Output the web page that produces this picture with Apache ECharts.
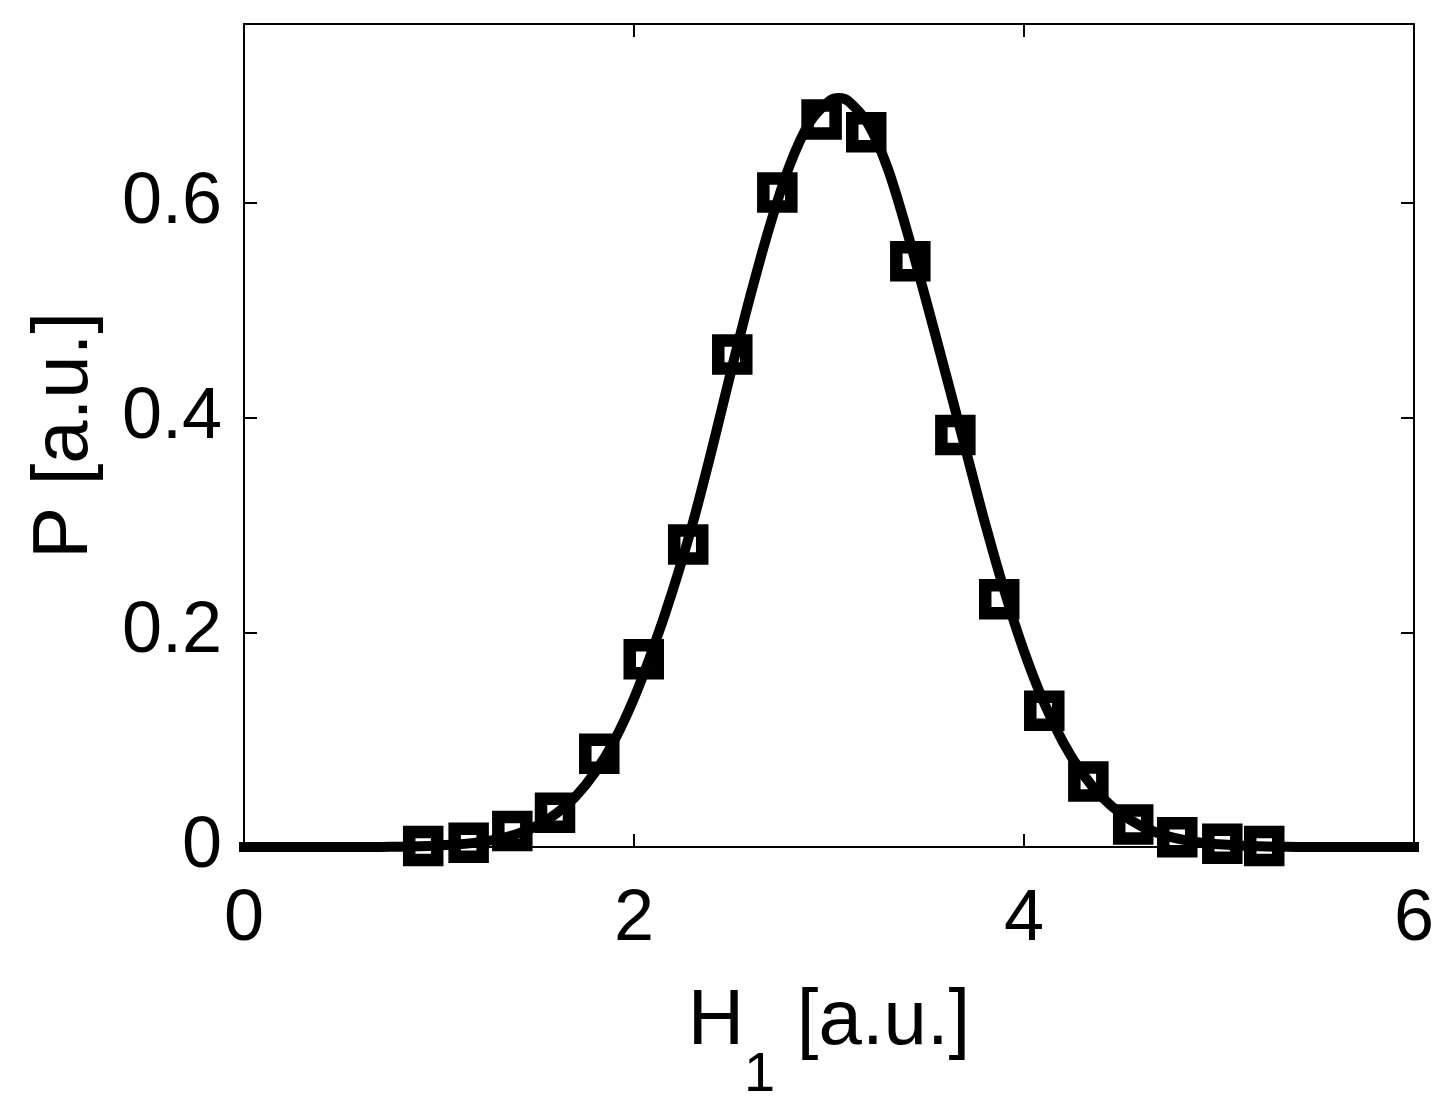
<!DOCTYPE html>
<html>
<head>
<meta charset="utf-8">
<script src="https://cdn.jsdelivr.net/npm/echarts@6/dist/echarts.min.js"></script>
<style>
html,body{margin:0;padding:0;background:#fff;}
#chart{width:1455px;height:1116px;}
</style>
</head>
<body>
<div id="chart"></div>
<script>
// Measured histogram points (squares)
const markerX = [0.919, 1.152, 1.376, 1.595, 1.822, 2.050, 2.278, 2.504, 2.735, 2.962,
                 3.191, 3.417, 3.648, 3.873, 4.104, 4.330, 4.560, 4.786, 5.017, 5.232];
const markerY = [0.001, 0.004, 0.015, 0.032, 0.087, 0.175, 0.282, 0.459, 0.610, 0.678,
                 0.666, 0.546, 0.384, 0.231, 0.127, 0.061, 0.021, 0.009, 0.003, 0.001];

// Fitted curve
const curveX = [0.0, 0.1, 0.2, 0.3, 0.4, 0.5, 0.6, 0.7, 0.8, 0.9,
                1.0, 1.1, 1.2, 1.3, 1.4, 1.5, 1.6, 1.7, 1.8, 1.9,
                2.0, 2.1, 2.2, 2.3, 2.4, 2.5, 2.6, 2.7, 2.8, 2.9,
                3.0, 3.05, 3.1, 3.2, 3.3, 3.4, 3.5, 3.6, 3.7, 3.8, 3.9,
                4.0, 4.1, 4.2, 4.3, 4.4, 4.5, 4.6, 4.7, 4.8, 4.9,
                5.0, 5.1, 5.2, 5.3, 5.4, 5.5, 5.6, 5.7, 5.8, 5.9, 6.0];
const curveY = [0, 0, 0, 0, 0, 0, 0, 0.0001, 0.0002, 0.0006,
                0.0014, 0.0025, 0.0043, 0.0074, 0.0122, 0.0196, 0.0310, 0.0470, 0.0695, 0.0995,
                0.1385, 0.1860, 0.2400, 0.3010, 0.3710, 0.4450, 0.5160, 0.5810, 0.6360, 0.6750,
                0.6950, 0.6980, 0.6950, 0.6740, 0.6330, 0.5740, 0.5080, 0.4400, 0.3710, 0.3020, 0.2385,
                0.1825, 0.1356, 0.0978, 0.0685, 0.0465, 0.0307, 0.0196, 0.0122, 0.0074, 0.0043,
                0.0025, 0.0014, 0.0007, 0.0003, 0.0001, 0, 0, 0, 0, 0, 0];

const xTickLabels = ['0', '2', '4', '6'];
const yTickLabels = ['0', '0.2', '0.4', '0.6'];

const FONT = 'Liberation Sans, Arial, Helvetica, sans-serif';

const chart = echarts.init(document.getElementById('chart'), null, {renderer: 'canvas'});

const axisLineStyle = {show: true, onZero: false, lineStyle: {color: '#000', width: 2}};
const tickStyle = {show: true, inside: true, length: 13, lineStyle: {color: '#000', width: 2}};

const option = {
  backgroundColor: '#fff',
  animation: false,
  grid: {left: 244, right: 41, top: 24, bottom: 269, containLabel: false},
  xAxis: [
    {
      type: 'value', position: 'bottom', min: 0, max: 6, interval: 2,
      axisLine: axisLineStyle, axisTick: tickStyle, splitLine: {show: false},
      axisLabel: {
        fontSize: 72, fontFamily: FONT, color: '#000', margin: 37,
        formatter: function (v) { return xTickLabels[Math.round(v / 2)]; }
      },
      name: '{a|H}{b|1}{a| [a.u.]}',
      nameLocation: 'middle', nameGap: 136,
      nameTextStyle: {
        rich: {
          a: {fontSize: 78, fontFamily: FONT, color: '#000', lineHeight: 90, verticalAlign: 'top'},
          b: {fontSize: 56, fontFamily: FONT, color: '#000', lineHeight: 56, verticalAlign: 'top', padding: [65, 0, 0, 0]}
        }
      }
    },
    {
      type: 'value', position: 'top', min: 0, max: 6, interval: 2,
      axisLine: axisLineStyle, axisTick: tickStyle, splitLine: {show: false},
      axisLabel: {show: false}
    }
  ],
  yAxis: [
    {
      type: 'value', position: 'left', min: 0, max: 0.767, interval: 0.2,
      axisLine: axisLineStyle, axisTick: tickStyle, splitLine: {show: false},
      axisLabel: {
        fontSize: 72, fontFamily: FONT, color: '#000', margin: 22, showMaxLabel: false,
        formatter: function (v) {
          const i = Math.round(v / 0.2);
          return Math.abs(v - i * 0.2) < 1e-6 ? yTickLabels[i] : '';
        }
      },
      name: 'P [a.u.]', nameLocation: 'middle', nameGap: 140, nameRotate: 90,
      nameTextStyle: {fontSize: 78, fontFamily: FONT, color: '#000'}
    },
    {
      type: 'value', position: 'right', min: 0, max: 0.767, interval: 0.2,
      axisLine: axisLineStyle, axisTick: tickStyle, splitLine: {show: false},
      axisLabel: {show: false}
    }
  ],
  series: [
    {
      type: 'line',
      data: curveX.map((x, i) => [x, curveY[i]]),
      showSymbol: false,
      smooth: 0.3,
      clip: false,
      z: 2,
      lineStyle: {color: '#000', width: 10, cap: 'square', join: 'round', opacity: 1}
    },
    {
      type: 'scatter',
      data: markerX.map((x, i) => [x, markerY[i]]),
      symbol: 'rect',
      symbolSize: 28,
      z: 3,
      itemStyle: {color: 'rgba(0,0,0,0)', borderColor: '#000', borderWidth: 12.5, opacity: 1}
    }
  ]
};

chart.setOption(option);
</script>
</body>
</html>
